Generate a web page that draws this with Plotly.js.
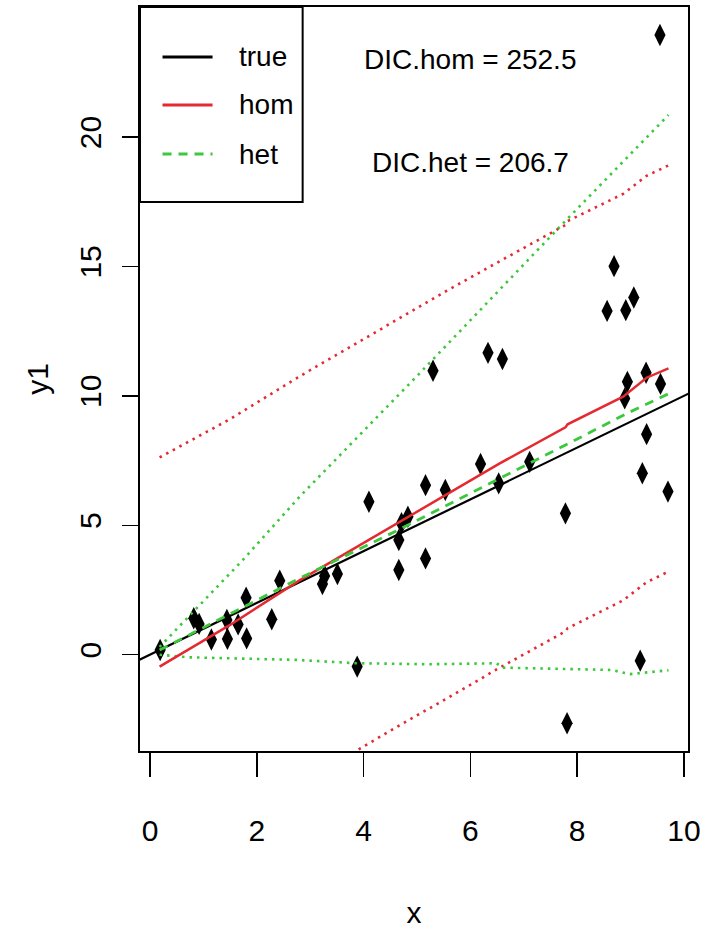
<!DOCTYPE html>
<html>
<head>
<meta charset="utf-8">
<script src="https://cdn.plot.ly/plotly-3.0.1.min.js"></script>
<style>html,body{margin:0;padding:0;background:#fff;}#chart{width:706px;height:944px;}</style>
</head>
<body>
<div id="chart"></div>
<script>
// observed points
const ptX = [0.19,0.82,0.92,1.15,1.44,1.45,1.65,1.81,1.80,2.28,2.43,3.23,3.27,3.51,3.88,4.10,4.66,4.66,4.71,4.83,5.16,5.16,5.30,5.53,6.19,6.33,6.53,6.60,7.11,7.78,7.81,8.56,8.69,8.89,8.91,8.94,9.06,9.18,9.22,9.29,9.30,9.55,9.56,9.70];
const ptY = [0.18,1.41,1.19,0.59,1.34,0.61,1.17,0.63,2.20,1.37,2.86,2.73,3.04,3.12,-0.46,5.91,3.27,4.43,5.08,5.33,6.55,3.72,10.97,6.36,7.37,11.66,6.62,11.42,7.45,5.46,-2.65,13.28,15.01,9.90,13.31,10.54,13.80,-0.23,7.01,10.89,8.52,23.94,10.46,6.30];

// true relation (abline)
const trueX = [-1, 11];
const trueY = [-1, 11];

// hom fit: mean and interval
const homX     = [0.18, 1.5, 2.8, 4.68, 5.55, 6.55, 7.78, 7.82, 8.86, 9.3, 9.71];
const homMean  = [-0.46, 1.15, 2.87, 5.15, 6.2, 7.39, 8.78, 8.9, 9.97, 10.7, 11.06];
const homUpper = [7.62, 9.1, 10.75, 13.0, 14.05, 15.2, 16.6, 16.75, 17.8, 18.5, 18.9];
const homLower = [-8.3, -6.7, -5.0, -2.72, -1.7, -0.5, 0.9, 1.02, 2.1, 2.8, 3.21];

// het fit: mean and interval
const hetX     = [0.18, 2.8, 4.68, 6.55, 7.8, 8.93, 9.71];
const hetMean  = [0.18, 2.95, 4.85, 6.8, 8.12, 9.32, 10.08];
const hetUpX   = [0.18, 1.74, 2.8, 5.05, 7.8, 9.71];
const hetUpper = [0.3, 3.66, 6.1, 10.87, 16.8, 20.85];
const hetLoX   = [0.18, 0.71, 2.74, 3.87, 5.24, 6.49, 6.6, 7.3, 8.64, 8.99, 9.64, 9.71];
const hetLower = [0.0, -0.1, -0.2, -0.33, -0.37, -0.33, -0.5, -0.53, -0.59, -0.75, -0.62, -0.6];

// text labels
const legendNames = ["true", "hom", "het"];
const dicLabels = ["DIC.hom = 252.5", "DIC.het = 206.7"];
const dicX = [6, 6];
const dicY = [23, 19];
const xTicks = [0, 2, 4, 6, 8, 10];
const yTicks = [0, 5, 10, 15, 20];

const RED = "#E42A30";
const GREEN = "#3CC83C";
const FONT = "Liberation Sans, Arial, sans-serif";

const traces = [
  {x: ptX, y: ptY, mode: "markers", type: "scatter",
   marker: {symbol: "diamond-tall", size: 16, color: "black"}},
  {x: trueX, y: trueY, mode: "lines", type: "scatter", line: {color: "black", width: 2.2}},
  {x: homX, y: homUpper, mode: "lines", type: "scatter", line: {color: RED, width: 2.6, dash: "2.5px,5px"}},
  {x: homX, y: homLower, mode: "lines", type: "scatter", line: {color: RED, width: 2.6, dash: "2.5px,5px"}},
  {x: hetUpX, y: hetUpper, mode: "lines", type: "scatter", line: {color: GREEN, width: 2.6, dash: "2.5px,5px"}},
  {x: hetLoX, y: hetLower, mode: "lines", type: "scatter", line: {color: GREEN, width: 2.6, dash: "2.5px,5px"}},
  {x: homX, y: homMean, mode: "lines", type: "scatter", line: {color: RED, width: 2.5}},
  {x: hetX, y: hetMean, mode: "lines", type: "scatter", line: {color: GREEN, width: 2.8, dash: "9px,7px"}}
];

// legend drawn in paper coordinates
const legY = [0.9328, 0.8683, 0.8024];
const legColors = ["black", RED, GREEN];
const legDash = ["solid", "solid", "9px,7px"];
const shapes = [
  {type: "rect", xref: "paper", yref: "paper", x0: 0, x1: 0.2968, y0: 0.7379, y1: 1,
   line: {color: "black", width: 2}, fillcolor: "rgba(0,0,0,0)"}
];
const annotations = [];
legendNames.forEach((n, i) => {
  shapes.push({type: "line", xref: "paper", yref: "paper", x0: 0.0411, x1: 0.1324, y0: legY[i], y1: legY[i],
    line: {color: legColors[i], width: 2.8, dash: legDash[i]}});
  annotations.push({xref: "paper", yref: "paper", x: 0.1763, y: legY[i], text: n, showarrow: false,
    xanchor: "left", yanchor: "middle", font: {family: FONT, size: 28, color: "black"}});
});
dicLabels.forEach((t, i) => {
  annotations.push({xref: "x", yref: "y", x: dicX[i], y: dicY[i], text: t, showarrow: false,
    xanchor: "center", yanchor: "middle", font: {family: FONT, size: 28, color: "black"}});
});

const layout = {
  width: 706, height: 944,
  margin: {l: 140, r: 18, t: 7, b: 193, pad: 0},
  paper_bgcolor: "white", plot_bgcolor: "white",
  showlegend: false,
  font: {family: FONT, color: "black"},
  xaxis: {
    range: [-0.187, 10.075], tickvals: xTicks, ticktext: xTicks.map(String),
    ticks: "outside", ticklen: 24, tickwidth: 1.5, tickcolor: "black",
    showline: true, mirror: true, linecolor: "black", linewidth: 2,
    showgrid: false, zeroline: false, ticklabelstandoff: 28,
    tickfont: {family: FONT, size: 30, color: "black"},
    title: {text: "x", font: {family: FONT, size: 30, color: "black"}, standoff: 56}
  },
  yaxis: {
    range: [-3.72, 25.02], tickvals: yTicks, ticktext: yTicks.map(String),
    ticks: "outside", ticklen: 16, tickwidth: 1.5, tickcolor: "black",
    showline: true, mirror: true, linecolor: "black", linewidth: 2,
    showgrid: false, zeroline: false, tickangle: -90, ticklabelstandoff: 9,
    tickfont: {family: FONT, size: 30, color: "black"},
    title: {text: "y1", font: {family: FONT, size: 30, color: "black"}, standoff: 17}
  },
  shapes: shapes,
  annotations: annotations
};

Plotly.newPlot("chart", traces, layout, {staticPlot: true, displayModeBar: false});
</script>
</body>
</html>
